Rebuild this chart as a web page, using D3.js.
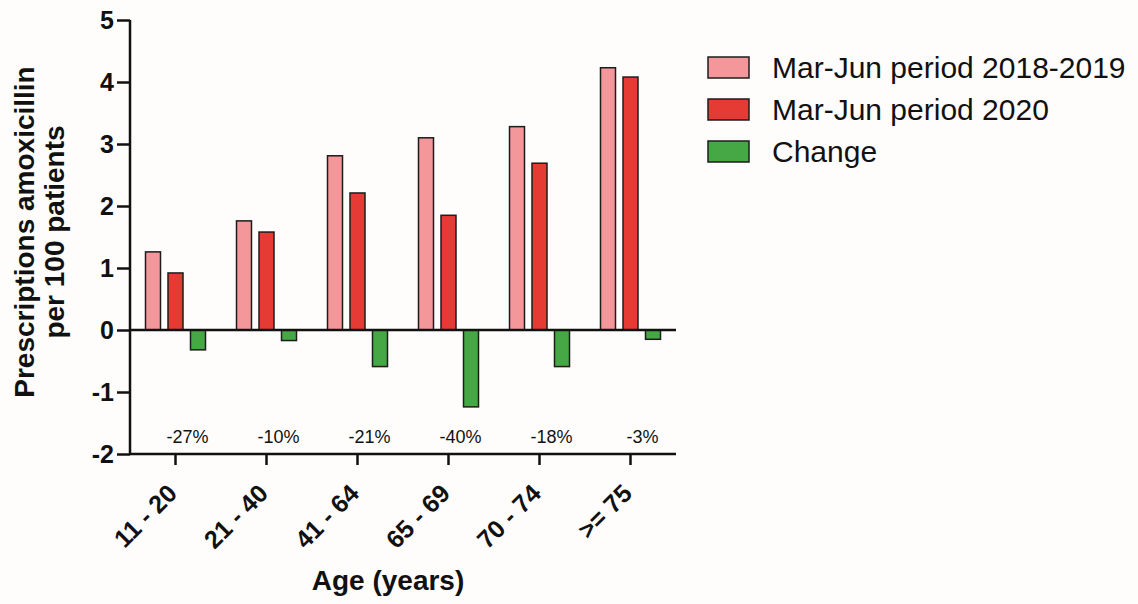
<!DOCTYPE html>
<html>
<head>
<meta charset="utf-8">
<script src="https://cdn.jsdelivr.net/npm/d3@7"></script>
<style>
  html, body { margin: 0; padding: 0; background: #fefdfb; }
  svg { display: block; font-family: "Liberation Sans", Arial, sans-serif; }
</style>
</head>
<body>
<div id="chart"></div>
<script>
// Age groups and values (prescriptions per 100 patients)
const categories = ['11 - 20', '21 - 40', '41 - 64', '65 - 69', '70 - 74', '>= 75'];
const period2018 = [1.26, 1.76, 2.81, 3.10, 3.28, 4.23];
const period2020 = [0.92, 1.58, 2.21, 1.85, 2.69, 4.08];
const change = [-0.32, -0.17, -0.59, -1.24, -0.59, -0.15];
const changeLabels = ['-27%', '-10%', '-21%', '-40%', '-18%', '-3%'];
const seriesNames = ['Mar-Jun period 2018-2019', 'Mar-Jun period 2020', 'Change'];
const yTicks = [-2, -1, 0, 1, 2, 3, 4, 5];

const COLORS = ['#f4979a', '#e53b34', '#46a845'];
const STROKE = '#1c1c1c';

const W = 1138, H = 604;
const plotLeft = 130, plotRight = 676, plotTop = 20, plotBottom = 454;

const svg = d3.select('#chart').append('svg')
  .attr('width', W)
  .attr('height', H);

const x = d3.scaleBand().domain(categories).range([plotLeft, plotRight]).padding(0);
const x1 = d3.scaleBand().domain(seriesNames).range([-30, 30])
  .paddingInner(1 / 3).paddingOuter(0);
const y = d3.scaleLinear().domain([-2, 5]).range([plotBottom, plotTop]);

const rows = categories.map((c, i) => ({
  cat: c,
  vals: [period2018[i], period2020[i], change[i]],
  label: changeLabels[i],
}));

// Bars
const groups = svg.append('g').selectAll('g')
  .data(rows)
  .join('g')
  .attr('transform', d => `translate(${x(d.cat) + x.bandwidth() / 2},0)`);

groups.selectAll('rect')
  .data(d => d.vals.map((v, k) => ({ v, k })))
  .join('rect')
  .attr('x', d => x1(seriesNames[d.k]))
  .attr('width', x1.bandwidth())
  .attr('y', d => y(Math.max(0, d.v)))
  .attr('height', d => Math.abs(y(d.v) - y(0)))
  .attr('fill', d => COLORS[d.k])
  .attr('stroke', STROKE)
  .attr('stroke-width', 1.5);

// Percent change labels
groups.append('text')
  .attr('x', 12)
  .attr('y', 443)
  .attr('text-anchor', 'middle')
  .attr('font-size', '18px')
  .attr('fill', '#111')
  .text(d => d.label);

// Zero line
svg.append('line')
  .attr('x1', plotLeft).attr('x2', plotRight)
  .attr('y1', y(0)).attr('y2', y(0))
  .attr('stroke', '#111').attr('stroke-width', 2.5);

// Y axis
const yAxis = svg.append('g')
  .attr('transform', `translate(${plotLeft},0)`)
  .call(d3.axisLeft(y).tickValues(yTicks).tickSize(13).tickPadding(3).tickFormat(d => String(d)));
yAxis.select('.domain').attr('stroke', '#111').attr('stroke-width', 2.5)
  .attr('d', `M0,${plotTop}V${plotBottom}`);
yAxis.selectAll('.tick line').attr('stroke', '#111').attr('stroke-width', 2.5);
yAxis.selectAll('.tick text')
  .attr('font-size', '25px')
  .attr('font-weight', 'bold')
  .attr('fill', '#111')
  .attr('font-family', '"Liberation Sans", Arial, sans-serif');

// X axis
const xAxis = svg.append('g')
  .attr('transform', `translate(0,${plotBottom})`)
  .call(d3.axisBottom(x).tickSize(11).tickFormat(''));
xAxis.select('.domain').attr('stroke', '#111').attr('stroke-width', 2.5)
  .attr('d', `M${plotLeft},0H${plotRight}`);
xAxis.selectAll('.tick line').attr('stroke', '#111').attr('stroke-width', 2.5);

svg.append('g').selectAll('text')
  .data(categories)
  .join('text')
  .attr('transform', d => `translate(${x(d) + x.bandwidth() / 2 + 3},495) rotate(-45)`)
  .attr('text-anchor', 'end')
  .attr('font-size', '25px')
  .attr('font-weight', 'bold')
  .attr('fill', '#111')
  .text(d => d);

// Axis titles
svg.append('text')
  .attr('x', (plotLeft + plotRight) / 2 - 15)
  .attr('y', 590)
  .attr('text-anchor', 'middle')
  .attr('font-size', '28px')
  .attr('font-weight', 'bold')
  .attr('fill', '#111')
  .text('Age (years)');

const yTitle = svg.append('text')
  .attr('transform', 'translate(0,232) rotate(-90)')
  .attr('text-anchor', 'middle')
  .attr('font-size', '28px')
  .attr('font-weight', 'bold')
  .attr('fill', '#111');
yTitle.append('tspan').attr('x', 0).attr('y', 34).text('Prescriptions amoxicillin');
yTitle.append('tspan').attr('x', 0).attr('y', 64).text('per 100 patients');

// Legend
const legend = svg.append('g').attr('transform', 'translate(708,57)');
const items = legend.selectAll('g')
  .data(seriesNames)
  .join('g')
  .attr('transform', (d, i) => `translate(0,${i * 42})`);
items.append('rect')
  .attr('width', 41).attr('height', 21)
  .attr('fill', (d, i) => COLORS[i])
  .attr('stroke', STROKE).attr('stroke-width', 1.5);
items.append('text')
  .attr('x', 64).attr('y', 21)
  .attr('font-size', '30px')
  .attr('fill', '#111')
  .text(d => d);
</script>
</body>
</html>
